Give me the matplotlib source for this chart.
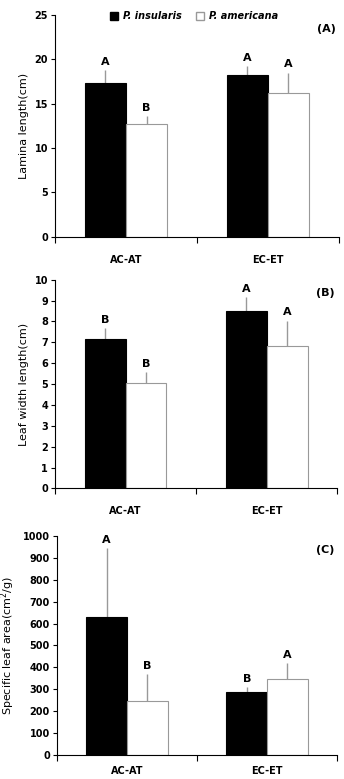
import numpy as np
import matplotlib.pyplot as plt
from matplotlib.patches import Patch

# Data
categories = ["AC-AT", "EC-ET"]
species = ["P. insularis", "P. americana"]

lamina_mean = {"P. insularis": [17.3, 18.2], "P. americana": [12.7, 16.2]}
lamina_err = {"P. insularis": [1.5, 1.0], "P. americana": [0.9, 2.3]}
lamina_letters = {"P. insularis": ["A", "A"], "P. americana": ["B", "A"]}

width_mean = {"P. insularis": [7.14, 8.48], "P. americana": [5.05, 6.82]}
width_err = {"P. insularis": [0.54, 0.69], "P. americana": [0.51, 1.22]}
width_letters = {"P. insularis": ["B", "A"], "P. americana": ["B", "A"]}

sla_mean = {"P. insularis": [632, 287], "P. americana": [244, 347]}
sla_err = {"P. insularis": [313, 23], "P. americana": [126, 73]}
sla_letters = {"P. insularis": ["A", "B"], "P. americana": ["B", "A"]}

panels = [
    ("(A)", "Lamina length(cm)", lamina_mean, lamina_err, lamina_letters, 25, 5),
    ("(B)", "Leaf width length(cm)", width_mean, width_err, width_letters, 10, 1),
    ("(C)", "Specific leaf area(cm$^2$/g)", sla_mean, sla_err, sla_letters, 1000, 100),
]

fig = plt.figure(figsize=(3.44, 7.79), dpi=100)
positions = [
    [0.160, 0.696, 0.825, 0.285],
    [0.160, 0.373, 0.820, 0.268],
    [0.165, 0.031, 0.815, 0.281],
]
label_pads = [13, 13, 8]

colors = {"P. insularis": "black", "P. americana": "white"}
edges = {"P. insularis": "black", "P. americana": "#999999"}
offsets = {"P. insularis": -0.145, "P. americana": 0.145}
bar_w = 0.29
x = np.array([0.5, 1.5])

for pos, lpad, (tag, ylabel, means, errs, letters, ymax, ystep) in zip(positions, label_pads, panels):
    ax = fig.add_axes(pos)
    for sp in species:
        xs = x + offsets[sp]
        ax.bar(xs, means[sp], bar_w, color=colors[sp], edgecolor=edges[sp],
               linewidth=0.8, zorder=2)
        # upper error bar only, drawn in grey
        ax.errorbar(xs, means[sp], yerr=[np.zeros(2), errs[sp]], fmt="none",
                    ecolor="#999999", elinewidth=1.0, capsize=0, zorder=1)
        for xi, m, e, lab in zip(xs, means[sp], errs[sp], letters[sp]):
            ax.text(xi, m + e + ymax * 0.015, lab, ha="center", va="bottom",
                    fontsize=8, fontweight="bold")

    ax.set_xlim(0, 2)
    ax.set_ylim(0, ymax)
    ax.set_yticks(np.arange(0, ymax + ystep, ystep))
    ax.set_xticks([0, 1, 2])
    ax.set_xticklabels([])
    ax.set_xticks(x, minor=True)
    ax.set_xticklabels(categories, minor=True, fontsize=7, fontweight="bold")
    ax.tick_params(axis="x", which="minor", length=0, pad=lpad)
    ax.tick_params(axis="x", which="major", length=4, direction="out", width=0.8)
    ax.tick_params(axis="y", length=3, width=0.8, labelsize=7, pad=2)
    for t in ax.get_yticklabels():
        t.set_fontweight("bold")
    ax.spines["top"].set_visible(False)
    ax.spines["right"].set_visible(False)
    ax.set_ylabel(ylabel, fontsize=8, labelpad=4)
    ax.text(0.99, 0.96, tag, transform=ax.transAxes, ha="right", va="top",
            fontsize=8, fontweight="bold")

    if tag == "(A)":
        handles = [Patch(facecolor="black", edgecolor="black"),
                   Patch(facecolor="white", edgecolor="#999999")]
        ax.legend(handles, species, loc="upper center", bbox_to_anchor=(0.49, 1.055),
                  ncol=2, frameon=False, handlelength=0.8, handleheight=0.8,
                  handletextpad=0.5, columnspacing=1.5,
                  prop={"size": 7, "style": "italic", "weight": "bold"})

fig.savefig("out.png", dpi=100)
